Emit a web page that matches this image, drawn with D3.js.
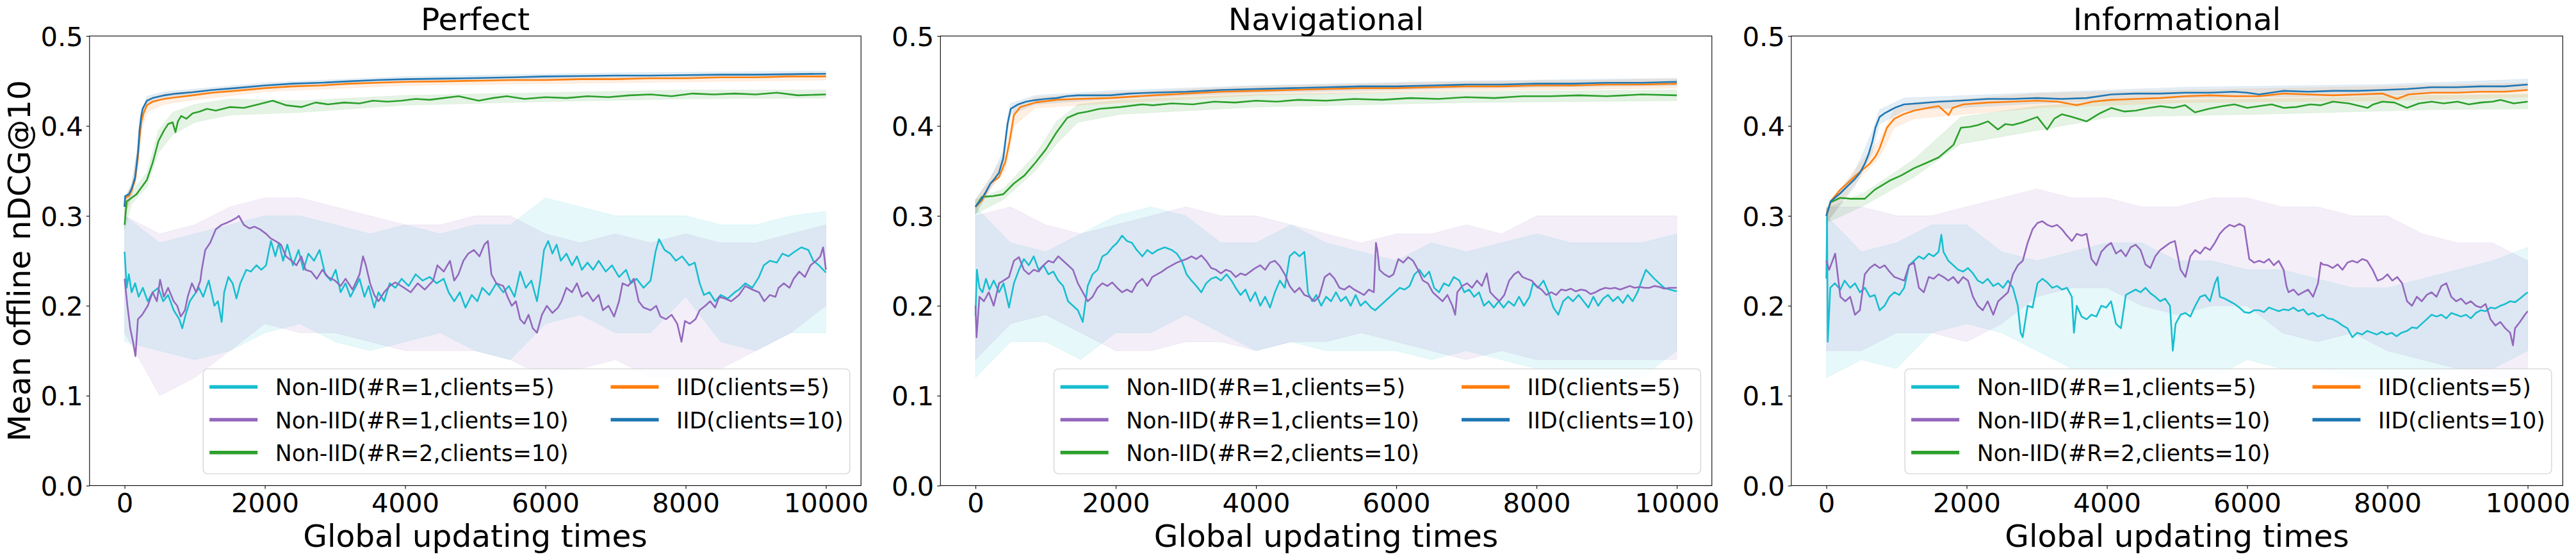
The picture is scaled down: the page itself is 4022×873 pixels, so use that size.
<!DOCTYPE html>
<html>
<head>
<meta charset="utf-8">
<script src="https://cdn.jsdelivr.net/npm/d3@7"></script>
<style>
  body { margin: 0; background: #ffffff; }
  svg { display: block; font-family: "DejaVu Sans", sans-serif; }
</style>
</head>
<body>
<svg id="chart" width="4022" height="873"></svg>
<script>
// ---------------- DATA ----------------
const panelTitles = ["Perfect", "Navigational", "Informational"];
const legendLabels = ["Non-IID(#R=1,clients=5)", "Non-IID(#R=1,clients=10)", "Non-IID(#R=2,clients=10)", "IID(clients=5)", "IID(clients=10)"];
const seriesColors = ["#17becf", "#9467bd", "#2ca02c", "#ff7f0e", "#1f77b4"];
const xTicks = [0, 2000, 4000, 6000, 8000, 10000];
const yTicks = [0.0, 0.1, 0.2, 0.3, 0.4, 0.5];
const bandX = [0,500,1000,1500,2000,2500,3000,3500,4000,4500,5000,5500,6000,6500,7000,7500,8000,8500,9000,9500,10000];

// ---- Perfect ----
const perfCyan = [[0,0.26],[30,0.22],[60,0.235],[100,0.215],[150,0.225],[200,0.21],[260,0.22],[330,0.205],[400,0.215],[480,0.22],[550,0.205],[620,0.212],[700,0.195],[780,0.185],[822,0.175],[870,0.19],[930,0.205],[1000,0.213],[1060,0.22],[1120,0.21],[1200,0.228],[1280,0.2],[1330,0.205],[1384,0.182],[1420,0.215],[1480,0.232],[1540,0.225],[1595,0.208],[1650,0.225],[1735,0.24],[1800,0.238],[1880,0.245],[1950,0.24],[2017,0.245],[2060,0.262],[2087,0.272],[2150,0.255],[2200,0.27],[2260,0.25],[2320,0.268],[2400,0.245],[2480,0.262],[2550,0.24],[2620,0.258],[2700,0.25],[2780,0.262],[2860,0.235],[2940,0.228],[3010,0.24],[3080,0.215],[3150,0.225],[3220,0.21],[3300,0.222],[3350,0.23],[3420,0.21],[3480,0.222],[3560,0.198],[3620,0.215],[3700,0.205],[3780,0.225],[3860,0.22],[3950,0.23],[4050,0.222],[4150,0.235],[4250,0.228],[4350,0.232],[4450,0.225],[4550,0.23],[4620,0.215],[4700,0.205],[4780,0.215],[4860,0.198],[4950,0.212],[5030,0.205],[5100,0.22],[5200,0.212],[5300,0.225],[5400,0.215],[5480,0.222],[5560,0.21],[5640,0.238],[5720,0.22],[5800,0.228],[5880,0.205],[5930,0.23],[5980,0.262],[6040,0.272],[6100,0.258],[6160,0.268],[6220,0.25],[6300,0.258],[6380,0.245],[6450,0.255],[6520,0.24],[6600,0.248],[6680,0.24],[6760,0.25],[6860,0.238],[6950,0.245],[7050,0.232],[7150,0.24],[7220,0.225],[7300,0.23],[7400,0.22],[7500,0.228],[7570,0.26],[7620,0.274],[7700,0.262],[7780,0.258],[7860,0.25],[7950,0.255],[8050,0.245],[8130,0.248],[8200,0.225],[8260,0.212],[8340,0.215],[8420,0.205],[8500,0.212],[8600,0.208],[8700,0.215],[8760,0.218],[8850,0.225],[8950,0.22],[9045,0.232],[9115,0.245],[9200,0.25],[9300,0.248],[9380,0.258],[9466,0.255],[9550,0.26],[9650,0.265],[9750,0.262],[9820,0.25],[9900,0.245],[10000,0.237]];
const perfPurple = [[0,0.23],[40,0.2],[80,0.175],[120,0.16],[155,0.144],[190,0.185],[250,0.19],[330,0.2],[400,0.215],[460,0.205],[506,0.229],[560,0.21],[620,0.22],[700,0.205],[750,0.2],[800,0.188],[860,0.195],[900,0.21],[960,0.225],[1020,0.215],[1080,0.228],[1100,0.24],[1150,0.262],[1220,0.27],[1300,0.285],[1384,0.29],[1450,0.292],[1530,0.295],[1600,0.298],[1630,0.3],[1700,0.29],[1780,0.286],[1850,0.288],[1930,0.285],[2017,0.28],[2080,0.275],[2150,0.272],[2230,0.268],[2300,0.255],[2380,0.25],[2450,0.245],[2520,0.255],[2580,0.24],[2660,0.238],[2740,0.23],[2820,0.24],[2900,0.232],[3000,0.228],[3080,0.222],[3150,0.23],[3250,0.218],[3350,0.235],[3400,0.255],[3440,0.245],[3500,0.225],[3560,0.212],[3620,0.205],[3700,0.215],[3780,0.222],[3860,0.226],[3985,0.22],[4080,0.215],[4180,0.225],[4280,0.218],[4400,0.228],[4460,0.245],[4550,0.238],[4640,0.25],[4700,0.228],[4760,0.235],[4830,0.25],[4900,0.258],[4980,0.262],[5060,0.255],[5130,0.268],[5180,0.272],[5230,0.235],[5300,0.225],[5400,0.222],[5460,0.21],[5520,0.2],[5580,0.205],[5640,0.185],[5700,0.18],[5760,0.19],[5820,0.175],[5880,0.17],[5950,0.19],[6020,0.2],[6100,0.192],[6180,0.198],[6230,0.205],[6300,0.22],[6380,0.215],[6450,0.225],[6520,0.21],[6600,0.215],[6680,0.205],[6760,0.212],[6820,0.195],[6900,0.2],[6980,0.188],[7050,0.205],[7100,0.225],[7180,0.222],[7260,0.23],[7330,0.205],[7400,0.198],[7500,0.195],[7580,0.2],[7640,0.188],[7720,0.185],[7800,0.19],[7880,0.18],[7940,0.16],[7990,0.183],[8060,0.18],[8140,0.185],[8200,0.195],[8280,0.2],[8350,0.205],[8420,0.198],[8480,0.21],[8560,0.208],[8650,0.205],[8760,0.212],[8850,0.222],[8950,0.218],[9045,0.215],[9120,0.205],[9200,0.212],[9280,0.21],[9325,0.22],[9400,0.225],[9480,0.22],[9540,0.23],[9620,0.238],[9700,0.232],[9780,0.245],[9860,0.25],[9920,0.255],[9960,0.265],[10000,0.24]];
const perfGreen = [[0,0.29],[30,0.316],[100,0.32],[170,0.324],[235,0.331],[318,0.34],[400,0.359],[482,0.383],[562,0.395],[620,0.402],[685,0.404],[725,0.393],[760,0.405],[807,0.411],[880,0.408],[970,0.414],[1070,0.416],[1174,0.419],[1300,0.417],[1500,0.421],[1700,0.42],[1907,0.424],[2111,0.428],[2300,0.423],[2519,0.421],[2723,0.426],[2900,0.424],[3131,0.426],[3350,0.425],[3539,0.428],[3750,0.427],[3947,0.428],[4150,0.43],[4350,0.429],[4550,0.431],[4762,0.433],[5048,0.428],[5250,0.431],[5448,0.433],[5700,0.43],[6000,0.432],[6300,0.431],[6600,0.433],[6900,0.432],[7200,0.434],[7500,0.435],[7800,0.433],[8100,0.436],[8400,0.435],[8700,0.436],[9000,0.435],[9300,0.437],[9600,0.434],[10000,0.435]];
const perfOrange = [[0,0.31],[8,0.32],[60,0.322],[100,0.328],[150,0.34],[190,0.365],[212,0.385],[240,0.405],[270,0.414],[318,0.423],[400,0.427],[562,0.43],[750,0.432],[970,0.434],[1250,0.437],[1580,0.439],[2000,0.442],[2397,0.444],[2800,0.445],[3212,0.447],[3600,0.448],[4027,0.449],[4500,0.4495],[4843,0.45],[5528,0.451],[6000,0.451],[6500,0.452],[7000,0.452],[7500,0.453],[8000,0.453],[8500,0.454],[9000,0.454],[9500,0.455],[10000,0.455]];
const perfBlue = [[0,0.31],[8,0.322],[60,0.324],[100,0.33],[150,0.343],[190,0.37],[212,0.395],[235,0.41],[257,0.419],[318,0.428],[400,0.431],[562,0.434],[750,0.436],[970,0.4375],[1250,0.44],[1580,0.442],[2000,0.445],[2397,0.447],[2800,0.448],[3212,0.4497],[3600,0.451],[4027,0.452],[4500,0.4525],[4843,0.453],[5528,0.454],[6000,0.455],[6500,0.4555],[7000,0.456],[7500,0.456],[8000,0.4565],[8500,0.457],[9000,0.457],[9500,0.4575],[10000,0.458]];
const perfCyanHi = [0.30,0.27,0.28,0.29,0.30,0.30,0.29,0.28,0.29,0.28,0.29,0.29,0.32,0.31,0.30,0.30,0.30,0.29,0.29,0.30,0.305];
const perfCyanLo = [0.16,0.15,0.14,0.15,0.17,0.18,0.16,0.15,0.16,0.17,0.15,0.14,0.18,0.19,0.17,0.17,0.21,0.16,0.15,0.17,0.17];
const perfPurpleHi = [0.30,0.28,0.29,0.31,0.32,0.32,0.31,0.30,0.29,0.29,0.30,0.30,0.28,0.27,0.28,0.27,0.28,0.27,0.27,0.28,0.29];
const perfPurpleLo = [0.17,0.10,0.12,0.15,0.18,0.17,0.17,0.16,0.15,0.15,0.15,0.14,0.12,0.13,0.14,0.12,0.12,0.13,0.15,0.17,0.20];
const perfGreenBand = [[0,0.285,0.305],[100,0.313,0.327],[318,0.332,0.348],[482,0.37,0.395],[685,0.39,0.415],[1000,0.404,0.424],[1500,0.412,0.43],[2500,0.415,0.428],[4000,0.423,0.434],[6000,0.427,0.437],[8000,0.43,0.44],[10000,0.431,0.44]];
const perfOrangeBand = [[0,0.30,0.32],[100,0.32,0.335],[190,0.355,0.375],[240,0.395,0.415],[318,0.415,0.43],[562,0.424,0.436],[1000,0.429,0.439],[2000,0.438,0.446],[4000,0.445,0.453],[7000,0.448,0.456],[10000,0.451,0.459]];
const perfBlueBand = [[0,0.30,0.32],[100,0.325,0.335],[190,0.36,0.38],[235,0.402,0.416],[318,0.423,0.433],[562,0.43,0.438],[1000,0.434,0.441],[2000,0.442,0.448],[4000,0.449,0.455],[7000,0.453,0.459],[10000,0.455,0.461]];

// ---- Navigational ----
const navCyan = [[0,0.189],[20,0.24],[56,0.22],[100,0.215],[150,0.23],[200,0.218],[260,0.228],[337,0.215],[400,0.225],[478,0.198],[548,0.225],[620,0.24],[690,0.252],[760,0.245],[830,0.255],[900,0.24],[970,0.245],[1040,0.235],[1110,0.238],[1180,0.228],[1250,0.222],[1320,0.205],[1390,0.2],[1460,0.195],[1530,0.182],[1600,0.222],[1670,0.235],[1740,0.24],[1810,0.255],[1880,0.258],[1950,0.265],[2020,0.27],[2090,0.278],[2160,0.272],[2230,0.27],[2300,0.262],[2380,0.255],[2450,0.262],[2520,0.258],[2600,0.262],[2700,0.265],[2800,0.262],[2870,0.258],[2940,0.25],[3010,0.235],[3080,0.228],[3150,0.222],[3220,0.215],[3290,0.225],[3360,0.23],[3430,0.232],[3500,0.228],[3580,0.235],[3650,0.228],[3710,0.22],[3780,0.212],[3850,0.218],[3920,0.205],[3990,0.215],[4060,0.2],[4130,0.21],[4200,0.198],[4270,0.215],[4340,0.228],[4410,0.22],[4480,0.255],[4550,0.26],[4620,0.255],[4690,0.26],[4740,0.215],[4800,0.205],[4860,0.212],[4930,0.2],[5000,0.21],[5070,0.205],[5140,0.215],[5210,0.205],[5280,0.21],[5350,0.2],[5420,0.212],[5490,0.2],[5560,0.205],[5640,0.198],[5700,0.195],[5770,0.2],[5840,0.205],[5910,0.21],[5980,0.215],[6050,0.22],[6120,0.218],[6190,0.222],[6260,0.235],[6330,0.24],[6400,0.232],[6470,0.238],[6540,0.22],[6610,0.215],[6680,0.225],[6750,0.222],[6820,0.232],[6900,0.228],[6970,0.215],[7040,0.218],[7110,0.21],[7180,0.215],[7250,0.2],[7320,0.205],[7390,0.198],[7460,0.205],[7530,0.198],[7600,0.205],[7680,0.2],[7750,0.21],[7820,0.2],[7900,0.21],[7950,0.225],[8020,0.22],[8100,0.228],[8170,0.215],[8240,0.198],[8310,0.19],[8380,0.205],[8450,0.21],[8520,0.205],[8600,0.212],[8670,0.205],[8740,0.198],[8810,0.21],[8880,0.2],[8950,0.208],[9020,0.212],[9090,0.205],[9160,0.21],[9230,0.203],[9300,0.212],[9370,0.205],[9440,0.215],[9500,0.228],[9560,0.24],[9620,0.235],[9680,0.23],[9750,0.225],[9820,0.22],[9900,0.218],[10000,0.216]];
const navPurple = [[0,0.2],[15,0.165],[56,0.21],[120,0.205],[190,0.215],[260,0.2],[337,0.225],[400,0.228],[478,0.232],[548,0.25],[620,0.254],[690,0.24],[760,0.235],[830,0.24],[900,0.238],[970,0.245],[1040,0.25],[1110,0.248],[1180,0.255],[1250,0.25],[1320,0.245],[1390,0.24],[1460,0.225],[1530,0.215],[1600,0.205],[1670,0.21],[1740,0.22],[1810,0.225],[1880,0.222],[1950,0.226],[2020,0.22],[2090,0.215],[2160,0.218],[2230,0.215],[2300,0.225],[2380,0.23],[2450,0.222],[2520,0.232],[2590,0.235],[2660,0.238],[2730,0.242],[2800,0.245],[2870,0.248],[2940,0.25],[3010,0.252],[3080,0.255],[3150,0.252],[3220,0.256],[3290,0.25],[3360,0.242],[3430,0.24],[3500,0.236],[3570,0.24],[3640,0.238],[3710,0.232],[3780,0.236],[3850,0.234],[3920,0.238],[3990,0.242],[4060,0.245],[4130,0.24],[4200,0.248],[4270,0.25],[4340,0.244],[4410,0.235],[4480,0.222],[4550,0.215],[4620,0.22],[4690,0.212],[4760,0.21],[4830,0.205],[4900,0.21],[4980,0.232],[5050,0.236],[5120,0.23],[5190,0.22],[5260,0.218],[5330,0.222],[5400,0.218],[5470,0.215],[5540,0.212],[5610,0.218],[5680,0.215],[5710,0.27],[5730,0.262],[5760,0.24],[5830,0.235],[5900,0.232],[5960,0.235],[6030,0.252],[6100,0.248],[6170,0.254],[6240,0.25],[6310,0.24],[6380,0.228],[6450,0.225],[6520,0.215],[6590,0.21],[6660,0.205],[6730,0.212],[6800,0.2],[6840,0.19],[6870,0.215],[6940,0.222],[7010,0.225],[7080,0.22],[7150,0.228],[7220,0.222],[7290,0.236],[7340,0.215],[7400,0.21],[7470,0.205],[7540,0.212],[7610,0.228],[7680,0.235],[7740,0.238],[7800,0.232],[7860,0.23],[7930,0.228],[8000,0.222],[8070,0.218],[8140,0.212],[8210,0.215],[8280,0.212],[8350,0.218],[8420,0.217],[8490,0.219],[8560,0.216],[8630,0.218],[8700,0.217],[8770,0.213],[8840,0.215],[8910,0.218],[8980,0.22],[9050,0.219],[9120,0.22],[9190,0.218],[9260,0.22],[9330,0.222],[9400,0.22],[9470,0.221],[9540,0.22],[9610,0.22],[9680,0.222],[9750,0.221],[9820,0.219],[9900,0.22],[10000,0.22]];
const navGreen = [[0,0.31],[91,0.321],[250,0.322],[396,0.324],[548,0.336],[700,0.345],[853,0.359],[1005,0.374],[1157,0.393],[1309,0.409],[1461,0.414],[1600,0.416],[1766,0.419],[2070,0.421],[2375,0.424],[2527,0.423],[2800,0.425],[3100,0.424],[3400,0.427],[3700,0.426],[4000,0.428],[4300,0.427],[4600,0.429],[5000,0.428],[5400,0.43],[5800,0.429],[6200,0.431],[6600,0.43],[7000,0.432],[7400,0.431],[7800,0.433],[8200,0.433],[8600,0.434],[9000,0.433],[9500,0.435],[10000,0.434]];
const navOrange = [[0,0.31],[40,0.313],[91,0.317],[213,0.336],[335,0.343],[426,0.36],[487,0.383],[548,0.412],[640,0.421],[853,0.426],[1157,0.429],[1461,0.43],[1918,0.431],[2527,0.434],[3000,0.436],[3500,0.438],[4000,0.439],[4500,0.44],[5000,0.441],[5500,0.442],[6000,0.442],[6500,0.443],[7000,0.444],[7500,0.444],[8000,0.445],[8500,0.445],[9000,0.446],[9500,0.446],[10000,0.447]];
const navBlue = [[0,0.31],[40,0.314],[91,0.319],[150,0.327],[213,0.336],[280,0.342],[335,0.348],[396,0.364],[430,0.385],[457,0.402],[503,0.419],[609,0.424],[720,0.427],[853,0.4287],[1000,0.43],[1157,0.431],[1300,0.433],[1461,0.434],[1700,0.434],[1918,0.434],[2200,0.436],[2527,0.437],[3000,0.438],[3500,0.44],[4000,0.441],[4500,0.442],[5000,0.443],[5500,0.444],[6000,0.444],[6500,0.445],[7000,0.446],[7500,0.446],[8000,0.447],[8500,0.447],[9000,0.448],[9500,0.448],[10000,0.449]];
const navCyanHi = [0.31,0.27,0.26,0.28,0.30,0.31,0.30,0.27,0.27,0.29,0.27,0.26,0.25,0.27,0.26,0.27,0.28,0.27,0.27,0.27,0.28];
const navCyanLo = [0.12,0.16,0.16,0.14,0.17,0.17,0.19,0.17,0.15,0.16,0.15,0.15,0.15,0.14,0.15,0.14,0.13,0.12,0.12,0.12,0.15];
const navPurpleHi = [0.30,0.31,0.29,0.28,0.29,0.30,0.31,0.30,0.30,0.29,0.28,0.27,0.28,0.28,0.29,0.28,0.30,0.30,0.30,0.30,0.30];
const navPurpleLo = [0.14,0.18,0.19,0.17,0.15,0.15,0.16,0.16,0.15,0.16,0.16,0.17,0.16,0.15,0.14,0.15,0.14,0.14,0.14,0.14,0.14];
const navGreenBand = [[0,0.302,0.318],[396,0.318,0.33],[853,0.35,0.368],[1157,0.38,0.405],[1461,0.404,0.424],[2070,0.413,0.429],[4000,0.421,0.435],[7000,0.426,0.438],[10000,0.428,0.44]];
const navOrangeBand = [[0,0.302,0.318],[213,0.33,0.342],[426,0.35,0.37],[548,0.4,0.42],[853,0.42,0.432],[1918,0.425,0.437],[4000,0.434,0.444],[7000,0.439,0.449],[10000,0.442,0.452]];
const navBlueBand = [[0,0.302,0.318],[213,0.33,0.342],[396,0.355,0.372],[457,0.394,0.41],[503,0.413,0.425],[853,0.424,0.434],[1918,0.43,0.439],[4000,0.437,0.445],[7000,0.442,0.45],[10000,0.445,0.453]];

// ---- Informational ----
const infCyan = [[0,0.23],[10,0.3],[20,0.16],[56,0.22],[120,0.225],[200,0.218],[260,0.228],[340,0.22],[408,0.225],[478,0.215],[550,0.22],[620,0.21],[690,0.212],[760,0.195],[830,0.2],[900,0.21],[970,0.215],[1040,0.212],[1110,0.22],[1180,0.245],[1250,0.25],[1320,0.255],[1390,0.252],[1460,0.258],[1530,0.255],[1600,0.26],[1640,0.279],[1670,0.26],[1740,0.25],[1810,0.245],[1880,0.24],[1950,0.238],[2020,0.242],[2090,0.236],[2160,0.228],[2230,0.225],[2300,0.23],[2380,0.222],[2450,0.225],[2520,0.22],[2590,0.228],[2660,0.22],[2730,0.2],[2770,0.17],[2800,0.165],[2870,0.2],[2940,0.198],[3010,0.225],[3080,0.23],[3150,0.226],[3220,0.22],[3290,0.222],[3360,0.218],[3430,0.22],[3500,0.21],[3530,0.17],[3570,0.2],[3640,0.188],[3710,0.185],[3780,0.19],[3850,0.188],[3920,0.2],[3990,0.198],[4060,0.205],[4130,0.18],[4200,0.175],[4270,0.212],[4340,0.215],[4410,0.218],[4480,0.215],[4550,0.22],[4620,0.214],[4690,0.21],[4760,0.205],[4830,0.208],[4900,0.2],[4940,0.15],[4980,0.18],[5050,0.19],[5120,0.192],[5190,0.188],[5260,0.2],[5330,0.21],[5400,0.212],[5470,0.205],[5540,0.225],[5580,0.232],[5610,0.21],[5680,0.208],[5750,0.205],[5820,0.202],[5890,0.198],[5960,0.193],[6030,0.192],[6100,0.195],[6170,0.195],[6240,0.193],[6310,0.198],[6380,0.196],[6450,0.194],[6520,0.196],[6590,0.195],[6660,0.198],[6730,0.194],[6800,0.196],[6870,0.19],[6940,0.192],[7010,0.188],[7080,0.19],[7150,0.186],[7220,0.185],[7290,0.182],[7360,0.178],[7430,0.175],[7500,0.165],[7570,0.17],[7640,0.168],[7710,0.172],[7780,0.17],[7850,0.168],[7920,0.171],[7990,0.168],[8060,0.17],[8130,0.166],[8200,0.17],[8280,0.172],[8350,0.176],[8420,0.175],[8490,0.18],[8560,0.185],[8630,0.19],[8700,0.188],[8770,0.19],[8840,0.186],[8910,0.192],[8980,0.19],[9050,0.188],[9120,0.19],[9190,0.186],[9260,0.192],[9330,0.195],[9400,0.194],[9470,0.198],[9540,0.197],[9610,0.2],[9680,0.202],[9750,0.205],[9820,0.204],[9890,0.208],[9950,0.212],[10000,0.215]];
const infPurple = [[0,0.25],[40,0.24],[126,0.258],[200,0.21],[270,0.205],[340,0.21],[408,0.19],[478,0.195],[548,0.235],[620,0.242],[690,0.246],[760,0.242],[830,0.245],[900,0.238],[970,0.232],[1040,0.23],[1110,0.228],[1180,0.245],[1250,0.248],[1320,0.22],[1390,0.215],[1460,0.232],[1530,0.23],[1600,0.235],[1670,0.232],[1740,0.228],[1810,0.232],[1880,0.225],[1950,0.232],[2020,0.228],[2090,0.21],[2160,0.2],[2230,0.195],[2300,0.205],[2380,0.19],[2450,0.205],[2520,0.21],[2590,0.215],[2660,0.235],[2730,0.245],[2800,0.25],[2870,0.27],[2940,0.285],[3010,0.292],[3080,0.294],[3150,0.29],[3220,0.288],[3290,0.29],[3360,0.285],[3430,0.278],[3500,0.272],[3570,0.28],[3640,0.278],[3710,0.28],[3780,0.252],[3850,0.245],[3920,0.26],[3990,0.266],[4060,0.27],[4130,0.258],[4200,0.262],[4270,0.255],[4340,0.265],[4410,0.268],[4480,0.262],[4550,0.246],[4620,0.242],[4690,0.255],[4760,0.262],[4830,0.266],[4900,0.27],[4970,0.272],[5050,0.24],[5120,0.232],[5190,0.255],[5260,0.262],[5330,0.258],[5400,0.265],[5470,0.262],[5540,0.27],[5610,0.28],[5680,0.286],[5750,0.29],[5820,0.288],[5890,0.291],[5960,0.288],[6030,0.252],[6100,0.248],[6170,0.25],[6240,0.248],[6310,0.252],[6380,0.245],[6450,0.25],[6520,0.24],[6560,0.222],[6590,0.215],[6660,0.218],[6730,0.212],[6800,0.215],[6870,0.218],[6940,0.21],[7010,0.225],[7050,0.248],[7080,0.246],[7150,0.245],[7220,0.242],[7290,0.246],[7360,0.24],[7430,0.248],[7500,0.25],[7570,0.248],[7640,0.252],[7710,0.25],[7790,0.24],[7860,0.228],[7930,0.23],[8000,0.235],[8070,0.228],[8140,0.232],[8210,0.225],[8280,0.205],[8350,0.2],[8420,0.21],[8490,0.205],[8560,0.212],[8630,0.215],[8700,0.21],[8770,0.222],[8840,0.225],[8910,0.21],[8980,0.205],[9050,0.208],[9120,0.202],[9190,0.205],[9260,0.2],[9330,0.198],[9400,0.202],[9470,0.185],[9540,0.178],[9610,0.182],[9680,0.175],[9750,0.17],[9790,0.156],[9820,0.175],[9890,0.182],[9960,0.19],[10000,0.194]];
const infGreen = [[0,0.30],[60,0.315],[197,0.32],[350,0.319],[548,0.319],[689,0.329],[900,0.339],[1070,0.345],[1251,0.353],[1430,0.359],[1602,0.365],[1813,0.379],[1918,0.398],[2050,0.399],[2164,0.401],[2305,0.405],[2446,0.396],[2550,0.402],[2656,0.401],[2800,0.404],[3008,0.41],[3148,0.396],[3250,0.408],[3359,0.413],[3500,0.41],[3710,0.405],[3900,0.414],[4062,0.42],[4250,0.416],[4413,0.417],[4600,0.42],[4765,0.422],[4950,0.42],[5116,0.423],[5256,0.415],[5450,0.419],[5650,0.422],[5818,0.424],[6000,0.42],[6170,0.422],[6350,0.424],[6521,0.42],[6700,0.421],[6900,0.424],[7050,0.423],[7224,0.427],[7450,0.425],[7716,0.42],[7800,0.424],[7927,0.427],[8100,0.426],[8278,0.42],[8450,0.425],[8630,0.427],[8800,0.425],[9000,0.427],[9160,0.424],[9332,0.426],[9500,0.427],[9613,0.429],[9800,0.425],[10000,0.427]];
const infOrange = [[0,0.30],[60,0.316],[197,0.329],[408,0.344],[618,0.358],[700,0.366],[759,0.375],[864,0.398],[970,0.408],[1100,0.413],[1251,0.417],[1450,0.42],[1602,0.422],[1743,0.412],[1800,0.42],[1954,0.424],[2305,0.426],[2650,0.427],[3008,0.428],[3300,0.427],[3570,0.423],[3800,0.427],[4062,0.429],[4400,0.43],[4765,0.431],[5116,0.433],[5467,0.434],[5818,0.433],[6170,0.433],[6521,0.436],[6870,0.435],[7224,0.434],[7580,0.435],[7927,0.436],[8138,0.43],[8300,0.435],[8630,0.437],[8980,0.437],[9332,0.438],[9670,0.438],[10000,0.44]];
const infBlue = [[0,0.30],[60,0.316],[197,0.325],[300,0.333],[408,0.341],[480,0.348],[548,0.358],[600,0.368],[654,0.382],[700,0.398],[759,0.41],[830,0.414],[900,0.417],[1000,0.421],[1110,0.424],[1300,0.425],[1602,0.427],[1900,0.428],[2305,0.43],[2650,0.43],[3008,0.431],[3350,0.43],[3710,0.431],[4062,0.435],[4413,0.436],[4765,0.436],[5116,0.437],[5467,0.437],[5818,0.438],[6000,0.437],[6170,0.435],[6521,0.439],[6870,0.438],[7224,0.439],[7580,0.439],[7927,0.44],[8280,0.441],[8630,0.443],[8980,0.443],[9332,0.444],[9670,0.444],[10000,0.446]];
const infCyanHi = [0.30,0.26,0.27,0.29,0.29,0.26,0.25,0.26,0.27,0.27,0.25,0.25,0.24,0.24,0.23,0.22,0.22,0.23,0.24,0.25,0.265];
const infCyanLo = [0.12,0.14,0.13,0.17,0.18,0.17,0.15,0.13,0.12,0.13,0.13,0.12,0.14,0.13,0.13,0.12,0.12,0.12,0.13,0.13,0.15];
const infPurpleHi = [0.31,0.31,0.30,0.30,0.31,0.32,0.33,0.32,0.32,0.31,0.31,0.32,0.32,0.31,0.31,0.30,0.30,0.28,0.27,0.27,0.25];
const infPurpleLo = [0.15,0.15,0.17,0.17,0.16,0.18,0.21,0.22,0.22,0.20,0.19,0.20,0.20,0.17,0.16,0.17,0.15,0.14,0.13,0.12,0.12];
const infGreenBand = [[0,0.292,0.308],[548,0.312,0.326],[1251,0.343,0.363],[1918,0.38,0.41],[3008,0.395,0.422],[4062,0.41,0.428],[6170,0.413,0.43],[8630,0.418,0.434],[10000,0.419,0.435]];
const infOrangeBand = [[0,0.292,0.308],[408,0.336,0.352],[759,0.365,0.385],[970,0.398,0.418],[1251,0.408,0.426],[3008,0.42,0.436],[5116,0.426,0.44],[7927,0.428,0.444],[10000,0.432,0.448]];
const infBlueBand = [[0,0.292,0.308],[408,0.333,0.349],[654,0.37,0.394],[759,0.402,0.418],[1110,0.417,0.431],[3008,0.425,0.437],[5116,0.431,0.443],[7927,0.434,0.446],[10000,0.44,0.452]];

// ---------------- ASSEMBLY ----------------
const zipBand = (lo, hi) => bandX.map((x, i) => [x, lo[i], hi[i]]);
const panels = [
  { title: panelTitles[0], lines: [perfCyan, perfPurple, perfGreen, perfOrange, perfBlue],
    bands: [zipBand(perfCyanLo, perfCyanHi), zipBand(perfPurpleLo, perfPurpleHi), perfGreenBand, perfOrangeBand, perfBlueBand] },
  { title: panelTitles[1], lines: [navCyan, navPurple, navGreen, navOrange, navBlue],
    bands: [zipBand(navCyanLo, navCyanHi), zipBand(navPurpleLo, navPurpleHi), navGreenBand, navOrangeBand, navBlueBand] },
  { title: panelTitles[2], lines: [infCyan, infPurple, infGreen, infOrange, infBlue],
    bands: [zipBand(infCyanLo, infCyanHi), zipBand(infPurpleLo, infPurpleHi), infGreenBand, infOrangeBand, infBlueBand] }
];

// ---------------- LAYOUT ----------------
const svg = d3.select("#chart");
svg.append("rect").attr("width", 4022).attr("height", 873).attr("fill", "#fff");
const axLefts = [139.8, 1468.3, 2796.8];
const axW = 1204.5, axTop = 56.2, axBottom = 758.4;
const tickFont = 41.7, labelFont = 48.6, legendFont = 34.7;

panels.forEach((p, pi) => {
  const L = axLefts[pi];
  const x = d3.scaleLinear().domain([-500, 10500]).range([L, L + axW]);
  const y = d3.scaleLinear().domain([0, 0.5]).range([axBottom, axTop]);
  const g = svg.append("g");
  const clipId = "clip" + pi;
  svg.append("clipPath").attr("id", clipId).append("rect")
    .attr("x", L).attr("y", axTop).attr("width", axW).attr("height", axBottom - axTop);
  const plot = g.append("g").attr("clip-path", `url(#${clipId})`);

  const area = d3.area().x(d => x(d[0])).y0(d => y(d[1])).y1(d => y(d[2]));
  const line = d3.line().x(d => x(d[0])).y(d => y(d[1]));

  p.bands.forEach((b, i) => {
    plot.append("path").attr("d", area(b))
      .attr("fill", seriesColors[i]).attr("fill-opacity", i < 2 ? 0.11 : 0.12)
      .attr("stroke", seriesColors[i]).attr("stroke-opacity", 0.08).attr("stroke-width", 1);
  });
  p.lines.forEach((s, i) => {
    plot.append("path").attr("d", line(s))
      .attr("fill", "none").attr("stroke", seriesColors[i])
      .attr("stroke-width", 2.6).attr("stroke-linejoin", "round");
  });

  // axes frame
  g.append("rect").attr("x", L).attr("y", axTop).attr("width", axW).attr("height", axBottom - axTop)
    .attr("fill", "none").attr("stroke", "#000").attr("stroke-width", 1.1);

  // x ticks
  const xa = g.append("g").attr("transform", `translate(0,${axBottom})`)
    .call(d3.axisBottom(x).tickValues(xTicks).tickSize(5).tickPadding(0).tickFormat(d3.format("d")));
  xa.select(".domain").remove();
  xa.selectAll("line").attr("stroke", "#000").attr("stroke-width", 1.1);
  xa.selectAll("text").attr("font-size", tickFont).attr("fill", "#000")
    .attr("font-family", "DejaVu Sans").attr("dy", null).attr("y", 800 - axBottom);

  // y ticks
  const ya = g.append("g").attr("transform", `translate(${L},0)`)
    .call(d3.axisLeft(y).tickValues(yTicks).tickSize(5).tickPadding(0).tickFormat(d3.format(".1f")));
  ya.select(".domain").remove();
  ya.selectAll("line").attr("stroke", "#000").attr("stroke-width", 1.1);
  ya.selectAll("text").attr("font-size", tickFont).attr("fill", "#000")
    .attr("font-family", "DejaVu Sans").attr("x", -10).attr("dy", "0.36em");

  // title
  g.append("text").attr("x", L + axW / 2).attr("y", 46.7).attr("text-anchor", "middle")
    .attr("font-size", labelFont).text(p.title);
  // x label
  g.append("text").attr("x", L + axW / 2).attr("y", 854).attr("text-anchor", "middle")
    .attr("font-size", labelFont).text("Global updating times");

  // legend
  const lg = g.append("g");
  const box = lg.append("rect");
  const rowY0 = 28.3, rowStep = 51.2, handleLen = 75, textOff = 102.6, pad = 10, colGap = 66;
  const cols = [[0, 1, 2], [3, 4]];
  let colX = pad;
  cols.forEach(col => {
    let maxW = 0;
    col.forEach((si, ri) => {
      const t = lg.append("text").attr("font-size", legendFont).attr("x", colX + textOff)
        .attr("y", rowY0 + ri * rowStep + 13).text(legendLabels[si]);
      maxW = Math.max(maxW, t.node().getComputedTextLength());
      lg.append("line").attr("x1", colX).attr("x2", colX + handleLen)
        .attr("y1", rowY0 + ri * rowStep).attr("y2", rowY0 + ri * rowStep)
        .attr("stroke", seriesColors[si]).attr("stroke-width", 5.5);
    });
    colX += textOff + maxW + colGap;
  });
  const boxW = colX - colGap + pad;
  const boxH = 164;
  box.attr("x", 0).attr("y", 0).attr("width", boxW).attr("height", boxH).attr("rx", 7)
    .attr("fill", "#fff").attr("fill-opacity", 0.8).attr("stroke", "#cccccc").attr("stroke-width", 1.1);
  const lx = L + axW - 17.4 - boxW, ly = axBottom - 18.4 - boxH;
  lg.attr("transform", `translate(${lx},${ly})`);
});

// y label (first panel only)
svg.append("text").attr("transform", `translate(47,${(axTop + axBottom) / 2}) rotate(-90)`)
  .attr("text-anchor", "middle").attr("font-size", labelFont).text("Mean offline nDCG@10");
</script>
</body>
</html>
